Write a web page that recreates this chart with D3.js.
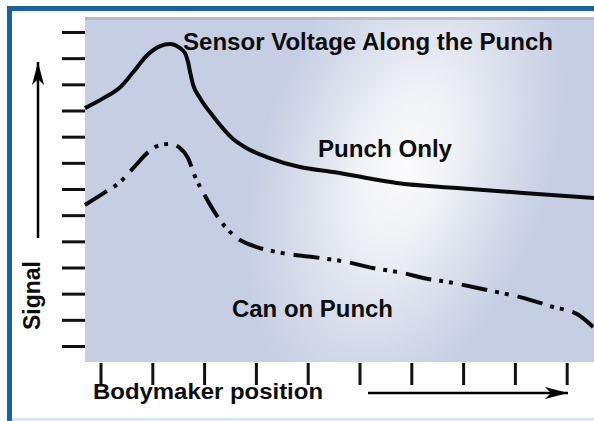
<!DOCTYPE html>
<html><head><meta charset="utf-8">
<script src="https://cdn.jsdelivr.net/npm/d3@7"></script>
<style>html,body{margin:0;padding:0;background:#fff;}svg{display:block;}</style>
</head><body>
<script>
// ---- data (x: bodymaker position in tick units, y: signal in tick units) ----
const xTicks = [0,1,2,3,4,5,6,7,8,9];
const yTicks = [0,1,2,3,4,5,6,7,8,9,10,11,12];
const punchOnlyX = [-0.30,0.09,0.38,0.63,0.90,1.15,1.34,1.53,1.63,1.69,1.73,1.79,1.92,2.17,2.56,2.85,3.21,3.85,4.49,5.14,5.72,6.88,8.16,9.53];
const punchOnlyY = [9.09,9.51,9.89,10.46,11.11,11.46,11.54,11.39,11.20,10.85,10.47,9.97,9.48,8.79,7.91,7.53,7.22,6.84,6.65,6.42,6.23,6.04,5.85,5.66];
const canX = [-0.30,0.09,0.38,0.67,0.92,1.15,1.34,1.53,1.69,1.82,2.02,2.25,2.50,2.73,3.02,3.52,4.10,4.76,5.26,5.84,6.23,6.81,7.46,8.10,8.74,9.20,9.53];
const canY = [5.39,5.88,6.27,6.88,7.41,7.68,7.72,7.57,7.18,6.50,5.73,4.97,4.36,4.01,3.78,3.55,3.40,3.21,2.98,2.79,2.60,2.41,2.14,1.87,1.49,1.22,0.69];
const titleText = "Sensor Voltage Along the Punch";
const labels = ["Punch Only","Can on Punch"];
const xLabel = "Bodymaker position";
const yLabel = "Signal";

const W = 594, H = 421;
const plot = {x0:85, y0:17, x1:594, y1:362};
const x = d3.scaleLinear().domain([0,9]).range([100.5,566.7]);
const y = d3.scaleLinear().domain([0,12]).range([346,32]);

const svg = d3.select("body").append("svg").attr("width",W).attr("height",H);
const defs = svg.append("defs");
const rg = defs.append("radialGradient").attr("id","glow")
  .attr("gradientUnits","userSpaceOnUse").attr("cx",0).attr("cy",0).attr("r",1)
  .attr("gradientTransform","translate(405,165) rotate(108) scale(255,145)");
rg.append("stop").attr("offset",0).attr("stop-color","#fbfbfc");
rg.append("stop").attr("offset",0.3).attr("stop-color","#f1f2f6");
rg.append("stop").attr("offset",0.62).attr("stop-color","#dbe0ec");
rg.append("stop").attr("offset",1).attr("stop-color","#c5cee3");
const mk = defs.append("marker").attr("id","arrow").attr("viewBox","-24 -7 25 14")
  .attr("refX",0).attr("refY",0).attr("markerWidth",25).attr("markerHeight",14)
  .attr("markerUnits","userSpaceOnUse").attr("orient","auto");
mk.append("path").attr("d","M0,0 L-23,-6 L-17,0 L-23,6 Z").attr("fill","#000");

// frame
svg.append("rect").attr("x",0).attr("y",0).attr("width",W).attr("height",H).attr("fill","#fff");
svg.append("rect").attr("x",7).attr("y",6).attr("width",W-7).attr("height",5).attr("fill","#1b61a3");
svg.append("rect").attr("x",7).attr("y",6).attr("width",5).attr("height",H-6).attr("fill","#1b61a3");
svg.append("rect").attr("x",12).attr("y",418).attr("width",W-12).attr("height",3).attr("fill","#d6e6f4");

// plot background
svg.append("rect").attr("x",plot.x0).attr("y",plot.y0).attr("width",plot.x1-plot.x0).attr("height",plot.y1-plot.y0).attr("fill","#c5cee3");
svg.append("rect").attr("x",plot.x0).attr("y",plot.y0).attr("width",plot.x1-plot.x0).attr("height",plot.y1-plot.y0).attr("fill","url(#glow)");
svg.append("rect").attr("x",plot.x0).attr("y",plot.y0).attr("width",plot.x1-plot.x0).attr("height",3).attr("fill","#b9b3c6").attr("opacity",0.8);

// axes ticks
const ya = svg.append("g").attr("transform",`translate(${plot.x0},0)`)
  .call(d3.axisLeft(y).tickValues(yTicks).tickSize(23).tickFormat(""));
const xa = svg.append("g").attr("transform",`translate(0,${plot.y1+1})`)
  .call(d3.axisBottom(x).tickValues(xTicks).tickSize(22).tickFormat(""));
[ya,xa].forEach(g=>{g.select(".domain").remove();g.selectAll(".tick line").attr("stroke","#111").attr("stroke-width",3);});

// curves
const line = d3.line().x(d=>x(d[0])).y(d=>y(d[1])).curve(d3.curveMonotoneX);
svg.append("path").datum(punchOnlyX.map((v,i)=>[v,punchOnlyY[i]]))
  .attr("d",line).attr("fill","none").attr("stroke","#0a0a0a").attr("stroke-width",4);
svg.append("path").datum(canX.map((v,i)=>[v,canY[i]]))
  .attr("d",line).attr("fill","none").attr("stroke","#0a0a0a").attr("stroke-width",4)
  .attr("stroke-dasharray","26 8 4 6 4 9");

// texts
const font = "'Liberation Sans', Arial, Helvetica, sans-serif";
function txt(s,xx,yy,len,size){
  return svg.append("text").attr("x",xx).attr("y",yy).text(s)
    .attr("font-family",font).attr("font-weight","bold").attr("font-size",size)
    .attr("fill","#0d0d0d").attr("textLength",len).attr("lengthAdjust","spacingAndGlyphs");
}
txt(titleText,183,50,370,23);
txt(labels[0],318,157,134,23);
txt(labels[1],232,317,161,23);
txt(xLabel,93,399,230,22.5);
svg.append("text").attr("transform","translate(40,330) rotate(-90)").text(yLabel)
  .attr("font-family",font).attr("font-weight","bold").attr("font-size",23)
  .attr("fill","#0d0d0d").attr("textLength",69).attr("lengthAdjust","spacingAndGlyphs");

// arrows
svg.append("line").attr("x1",38).attr("y1",238).attr("x2",38).attr("y2",62)
  .attr("stroke","#000").attr("stroke-width",2.5).attr("marker-end","url(#arrow)");
svg.append("line").attr("x1",368).attr("y1",393).attr("x2",568).attr("y2",393)
  .attr("stroke","#000").attr("stroke-width",2.5).attr("marker-end","url(#arrow)");
</script>
</body></html>
